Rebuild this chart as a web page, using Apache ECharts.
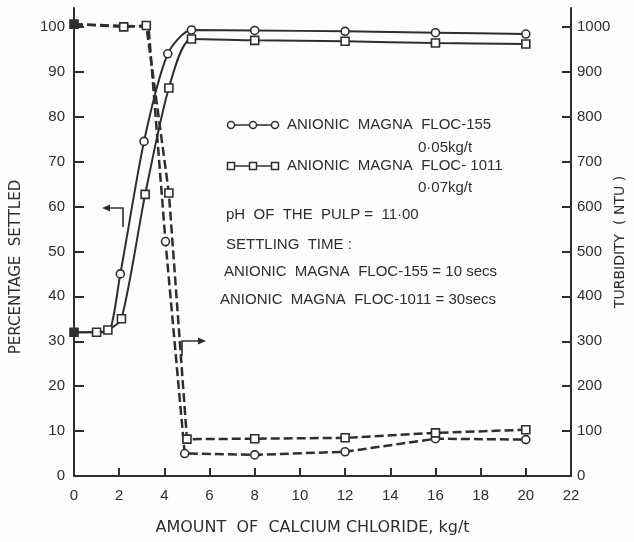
<!DOCTYPE html>
<html>
<head>
<meta charset="utf-8">
<script src="https://cdn.jsdelivr.net/npm/echarts@6/dist/echarts.min.js"></script>
<style>
  html, body { margin: 0; padding: 0; background: #fdfdfb; }
  #chart { width: 634px; height: 542px; }
</style>
</head>
<body>
<div id="chart"></div>
<script>
// percentage settled (left axis), solid lines
var settled155 = [[0, 32], [1, 32], [1.5, 32], [2.05, 45], [3.1, 74.5], [4.15, 94], [5.2, 99.3], [8, 99.2], [12, 99], [16, 98.7], [20, 98.4]];
var settled1011 = [[0, 32], [1, 32], [1.5, 32.5], [2.1, 35], [3.15, 62.7], [4.2, 86.4], [5.2, 97.3], [8, 97], [12, 96.8], [16, 96.4], [20, 96.2]];

// turbidity (right axis), dashed lines
var turb155 = [[0, 1006], [3.3, 1000], [4.05, 522], [4.9, 50], [8, 47], [12, 54], [16, 83], [20, 81]];
var turb1011 = [[0, 1006], [2.2, 1000], [3.2, 1003], [4.2, 630], [5.0, 82], [8, 83], [12, 85], [16, 96], [20, 103]];

var leftTicks = [0, 10, 20, 30, 40, 50, 60, 70, 80, 90, 100];
var rightTicks = [0, 100, 200, 300, 400, 500, 600, 700, 800, 900, 1000];

var ink = '#2e2e2e';
var font = 'Liberation Sans';
var nameFont = 'DejaVu Sans';

// hide the markers that sit under the other series
function points(arr, hidden, filledFirst) {
  return arr.map(function (p, i) {
    var item = { value: p };
    if (i < hidden) item.symbol = 'none';
    if (i === 0 && filledFirst) item.itemStyle = { color: ink };
    return item;
  });
}

var chart = echarts.init(document.getElementById('chart'));

var option = {
  backgroundColor: '#fdfdfb',
  animation: false,
  grid: { left: 74, right: 63, top: 8, bottom: 66, outerBoundsMode: 'none', containLabel: false },
  xAxis: {
    type: 'value', min: 0, max: 22, interval: 2,
    name: 'AMOUNT  OF  CALCIUM CHLORIDE, kg/t',
    nameLocation: 'middle', nameGap: 44,
    nameTextStyle: { fontFamily: nameFont, fontSize: 16, color: ink, padding: [0, 20, 0, 0] },
    axisLine: { lineStyle: { color: ink, width: 2 } },
    axisTick: { inside: true, length: 8, lineStyle: { color: ink, width: 2 } },
    axisLabel: { fontFamily: font, fontSize: 15, color: ink, margin: 12 },
    splitLine: { show: false }
  },
  yAxis: [{
    type: 'value', min: 0, max: 104.2,
    name: 'PERCENTAGE  SETTLED',
    nameLocation: 'middle', nameGap: 50, nameRotate: 90,
    nameTextStyle: { fontFamily: nameFont, fontSize: 15, color: ink, padding: [0, 50, 0, 0] },
    axisLine: { show: true, lineStyle: { color: ink, width: 2 } },
    axisTick: { inside: true, length: 10, customValues: leftTicks, lineStyle: { color: ink, width: 2 } },
    axisLabel: { fontFamily: font, fontSize: 15, color: ink, margin: 9, customValues: leftTicks },
    splitLine: { show: false }
  }, {
    type: 'value', min: 0, max: 1042, position: 'right',
    name: 'TURBIDITY  ( NTU )',
    nameLocation: 'middle', nameGap: 42, nameRotate: 90, nameMoveOverlap: false,
    nameTextStyle: { fontFamily: nameFont, fontSize: 14, color: ink },
    axisLine: { show: true, lineStyle: { color: ink, width: 2 } },
    axisTick: { inside: true, length: 9, customValues: rightTicks, lineStyle: { color: ink, width: 2 } },
    axisLabel: { fontFamily: font, fontSize: 15, color: ink, margin: 6, customValues: rightTicks,
      formatter: function (v) { return String(v); } },
    splitLine: { show: false }
  }],
  series: [{
    name: 'ANIONIC MAGNA FLOC-155', type: 'line', yAxisIndex: 0,
    data: points(settled155, 3, false), smooth: 0.25,
    symbol: 'circle', symbolSize: 8,
    lineStyle: { color: ink, width: 2 },
    itemStyle: { color: '#fdfdfb', borderColor: ink, borderWidth: 1.6 }
  }, {
    name: 'ANIONIC MAGNA FLOC-1011', type: 'line', yAxisIndex: 0,
    data: points(settled1011, 0, true), smooth: 0.25,
    symbol: 'rect', symbolSize: 8,
    lineStyle: { color: ink, width: 2 },
    itemStyle: { color: '#fdfdfb', borderColor: ink, borderWidth: 1.6 }
  }, {
    name: 'turbidity 155', type: 'line', yAxisIndex: 1,
    data: points(turb155, 2, false),
    symbol: 'circle', symbolSize: 8,
    lineStyle: { color: ink, width: 2.5, type: [9, 4] },
    itemStyle: { color: '#fdfdfb', borderColor: ink, borderWidth: 1.6 }
  }, {
    name: 'turbidity 1011', type: 'line', yAxisIndex: 1,
    data: points(turb1011, 0, true),
    symbol: 'rect', symbolSize: 8,
    lineStyle: { color: ink, width: 2.5, type: [9, 4] },
    itemStyle: { color: '#fdfdfb', borderColor: ink, borderWidth: 1.6 }
  }],
  graphic: [
    // legend keys
    { type: 'line', shape: { x1: 230, y1: 125, x2: 276, y2: 125 }, style: { stroke: ink, lineWidth: 1.6 } },
    { type: 'circle', shape: { cx: 231, cy: 125, r: 3.5 }, style: { fill: '#fdfdfb', stroke: ink, lineWidth: 1.5 } },
    { type: 'circle', shape: { cx: 253, cy: 125, r: 3.5 }, style: { fill: '#fdfdfb', stroke: ink, lineWidth: 1.5 } },
    { type: 'circle', shape: { cx: 275, cy: 125, r: 3.5 }, style: { fill: '#fdfdfb', stroke: ink, lineWidth: 1.5 } },
    { type: 'line', shape: { x1: 230, y1: 166, x2: 276, y2: 166 }, style: { stroke: ink, lineWidth: 1.6 } },
    { type: 'rect', shape: { x: 227.5, y: 162.5, width: 7, height: 7 }, style: { fill: '#fdfdfb', stroke: ink, lineWidth: 1.5 } },
    { type: 'rect', shape: { x: 249.5, y: 162.5, width: 7, height: 7 }, style: { fill: '#fdfdfb', stroke: ink, lineWidth: 1.5 } },
    { type: 'rect', shape: { x: 271.5, y: 162.5, width: 7, height: 7 }, style: { fill: '#fdfdfb', stroke: ink, lineWidth: 1.5 } },
    { type: 'text', left: 287, top: 117, style: { text: 'ANIONIC  MAGNA  FLOC-155', font: '15px ' + font, fill: ink } },
    { type: 'text', left: 418, top: 140, style: { text: '0·05kg/t', font: '15px ' + font, fill: ink } },
    { type: 'text', left: 287, top: 158, style: { text: 'ANIONIC  MAGNA  FLOC- 1011', font: '15px ' + font, fill: ink } },
    { type: 'text', left: 418, top: 180, style: { text: '0·07kg/t', font: '15px ' + font, fill: ink } },
    { type: 'text', left: 226, top: 207, style: { text: 'pH  OF  THE  PULP =  11·00', font: '15px ' + font, fill: ink } },
    { type: 'text', left: 226, top: 237, style: { text: 'SETTLING  TIME :', font: '15px ' + font, fill: ink } },
    { type: 'text', left: 224, top: 264, style: { text: 'ANIONIC  MAGNA  FLOC-155 = 10 secs', font: '15px ' + font, fill: ink } },
    { type: 'text', left: 220, top: 292, style: { text: 'ANIONIC  MAGNA  FLOC-1011 = 30secs', font: '15px ' + font, fill: ink } },
    // pointer arrows to the axes
    { type: 'polyline', shape: { points: [[123, 227], [123, 208], [108, 208]] }, style: { stroke: ink, lineWidth: 1.6, fill: null } },
    { type: 'polygon', shape: { points: [[102, 208], [110, 204.5], [110, 211.5]] }, style: { fill: ink } },
    { type: 'polyline', shape: { points: [[182, 356], [182, 341], [199, 341]] }, style: { stroke: ink, lineWidth: 1.6, fill: null } },
    { type: 'polygon', shape: { points: [[206, 341], [198, 337.5], [198, 344.5]] }, style: { fill: ink } }
  ]
};

chart.setOption(option);
</script>
</body>
</html>
